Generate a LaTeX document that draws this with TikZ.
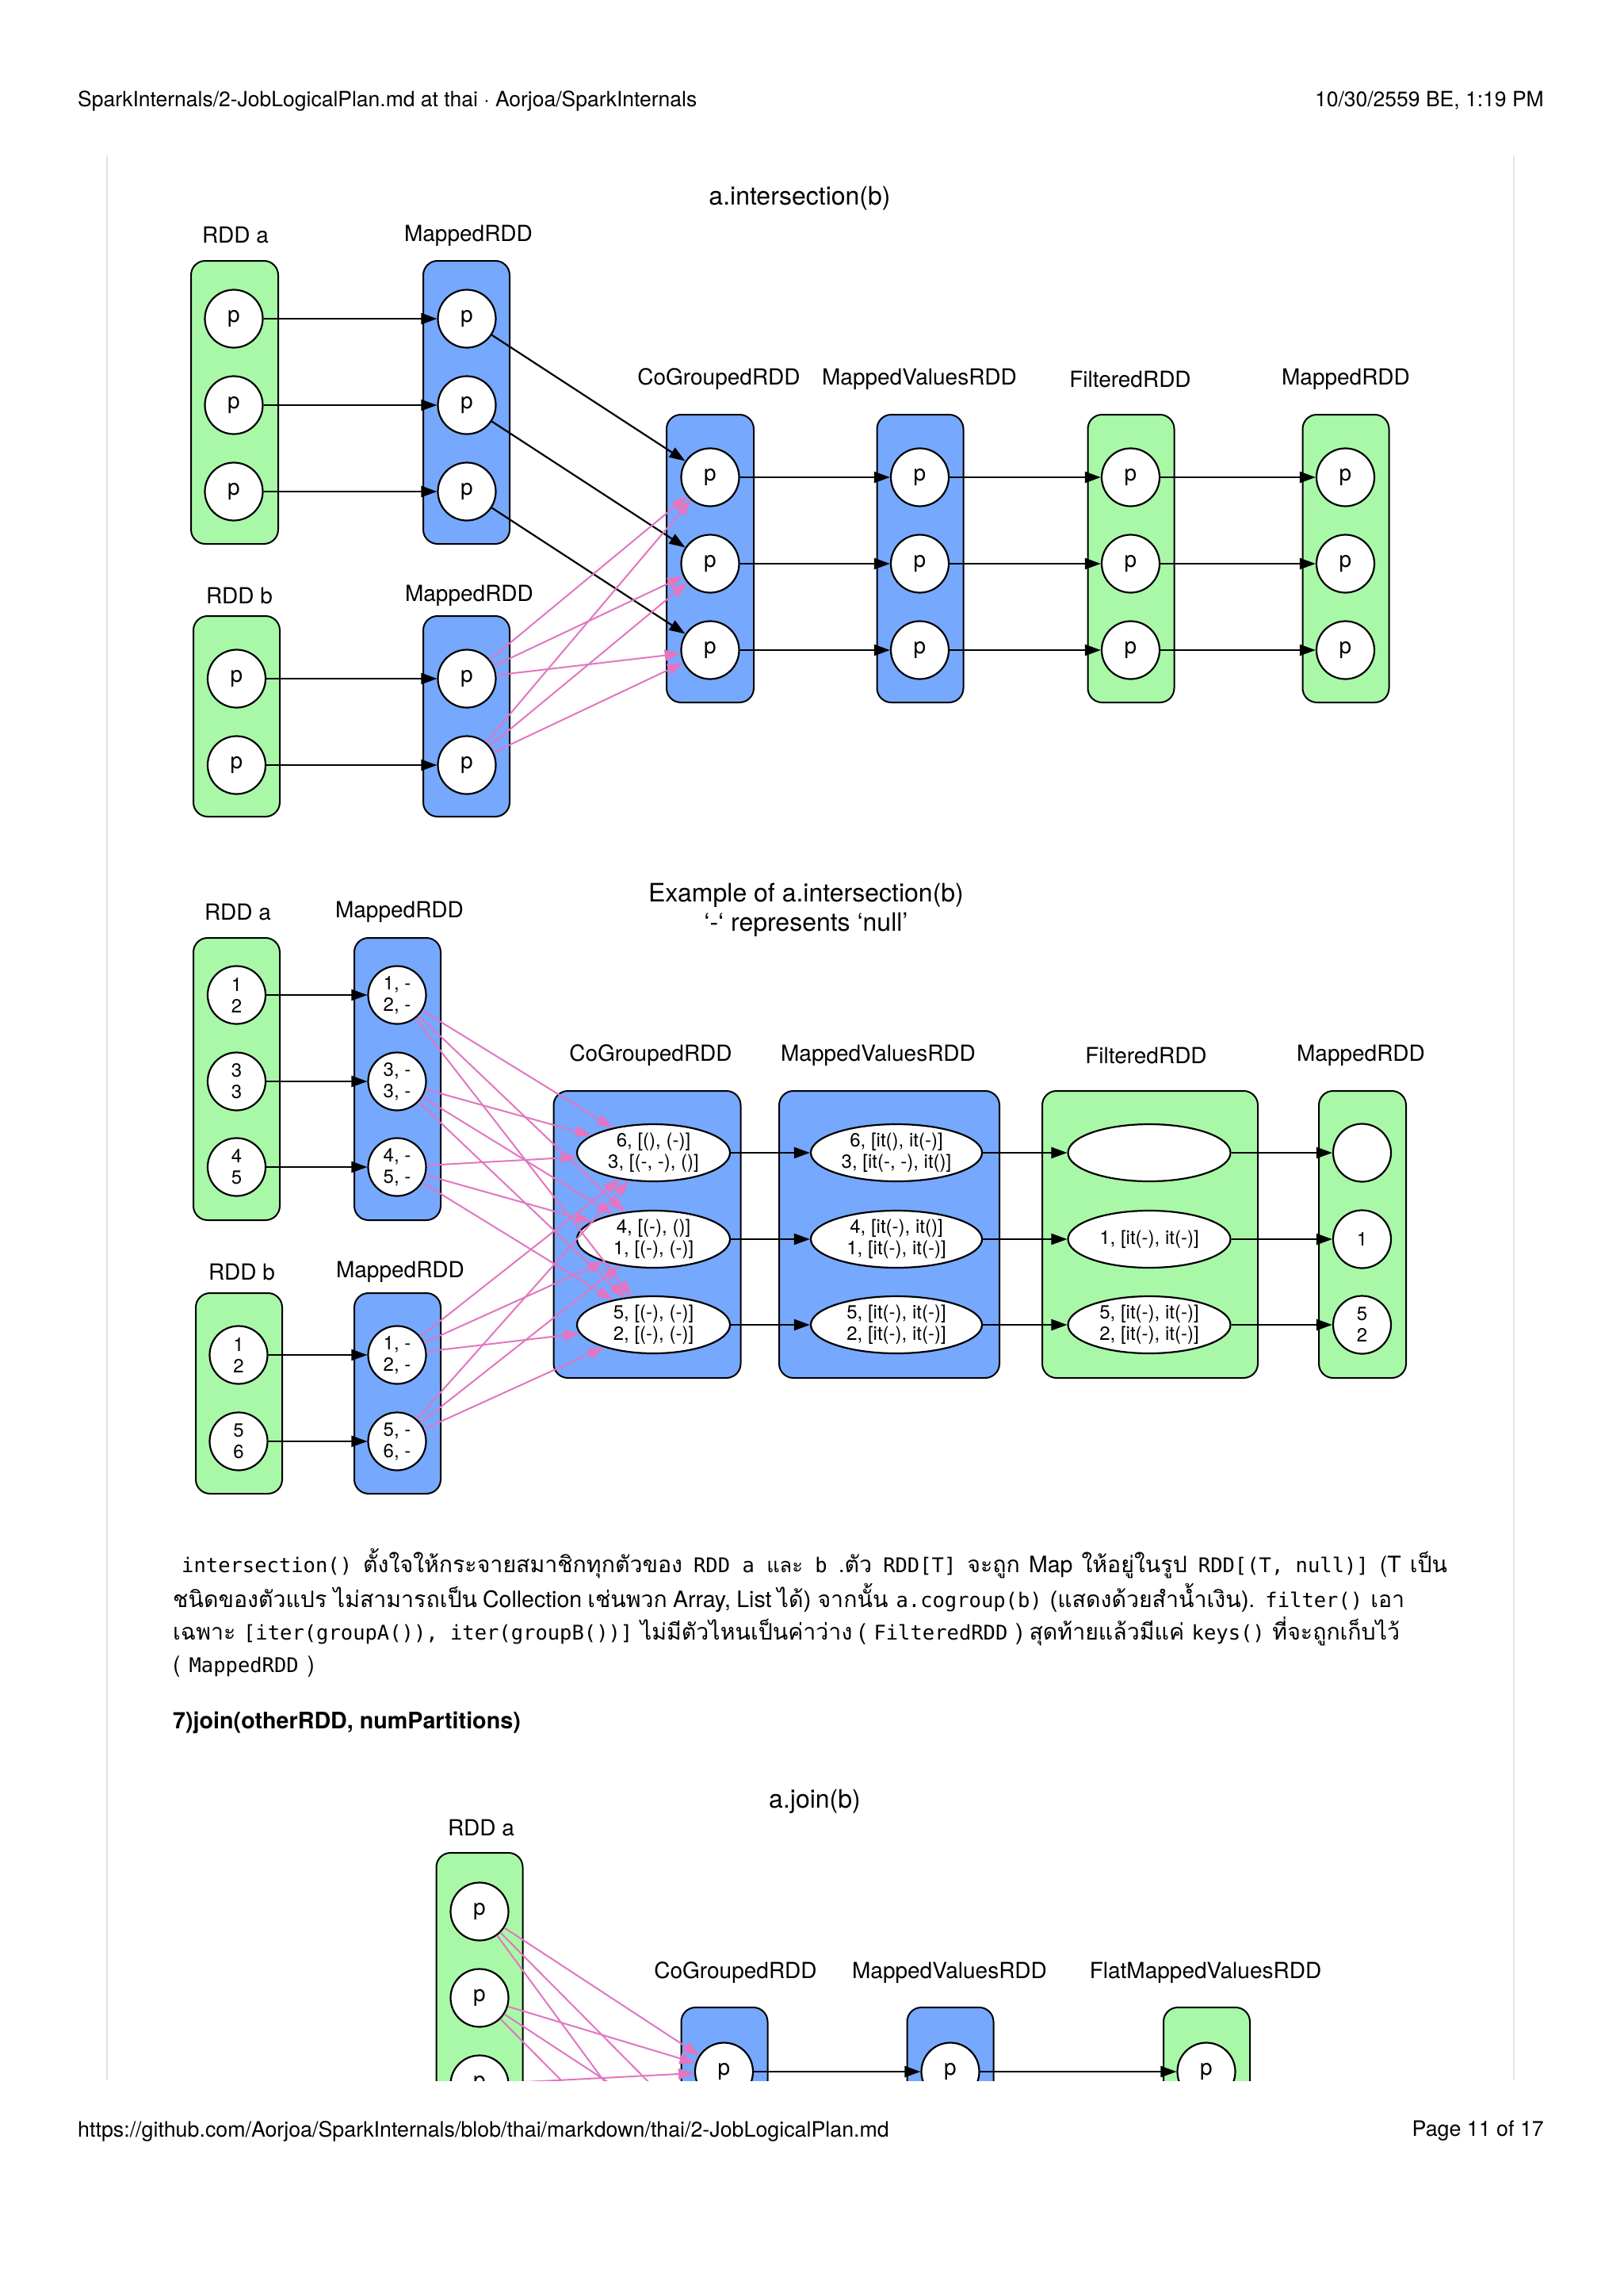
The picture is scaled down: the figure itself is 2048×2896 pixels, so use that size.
\documentclass[tikz,border=0pt]{standalone}
\usepackage{fontspec}
\setmainfont{TeX Gyre Heros}
\setmonofont{DejaVu Sans Mono}
\newfontfamily\thaifont[Script=Thai]{Loma}
\usetikzlibrary{arrows.meta,shapes.geometric}
\definecolor{rddgreen}{RGB}{168,248,168}
\definecolor{rddblue}{RGB}{118,168,254}
\definecolor{rddpink}{RGB}{226,118,192}
\definecolor{pageline}{RGB}{226,228,232}
\newcommand\tha[1]{{\thaifont #1}}
\newcommand\cd[1]{\hspace{3pt}{\ttfamily\fontsize{25.5}{32}\selectfont #1}\hspace{3pt}}
\begin{document}
\begin{tikzpicture}[x=1pt,y=-1pt,
  box/.style={draw=black, line width=2pt, rounded corners=18pt, inner sep=0pt},
  gbox/.style={box, fill=rddgreen},
  bbox/.style={box, fill=rddblue},
  part/.style={circle, draw=black, line width=2.2pt, fill=white, inner sep=0pt, minimum size=73pt, font=\fontsize{28}{30}\selectfont},
  vpart/.style={circle, draw=black, line width=2.2pt, fill=white, inner sep=0pt, minimum size=73pt, align=center, font=\fontsize{24}{27}\selectfont},
  ell/.style={ellipse, draw=black, line width=2.2pt, fill=white, inner sep=0pt, minimum height=72pt, minimum width=#1, align=center, font=\fontsize{24}{27}\selectfont},
  lbl/.style={inner sep=0pt, font=\fontsize{28}{30}\selectfont},
  ttl/.style={inner sep=0pt, font=\fontsize{32}{37}\selectfont, align=center},
  arr/.style={-{Triangle[length=20pt,width=14pt]}, line width=2.2pt, draw=black},
  parr/.style={-{Triangle[length=20pt,width=14pt]}, line width=2pt, draw=rddpink, fill=rddpink},
  hdr/.style={inner sep=0pt, font=\fontsize{26.5}{30}\selectfont},
  ftr/.style={inner sep=0pt, font=\fontsize{26.8}{30}\selectfont},
  para/.style={inner sep=0pt, font=\fontsize{28.5}{32}\selectfont}
]
\useasboundingbox (0,0) rectangle (2048,2896);
\fill[white] (0,0) rectangle (2048,2896);
% page side rules
\coordinate (gl1) at (134.5,196); \coordinate (gl2) at (134.5,2624);
\coordinate (gr1) at (1910,196); \coordinate (gr2) at (1910,2624);
\draw[pageline, line width=2pt] (gl1) -- (gl2);
\draw[pageline, line width=2pt] (gr1) -- (gr2);
% header / footer
\node[hdr, anchor=west] (hl) at (98,127) {SparkInternals/2-JobLogicalPlan.md at thai · Aorjoa/SparkInternals};
\node[hdr, anchor=east] (hr) at (1948,127) {10/30/2559 BE, 1:19 PM};
\node[ftr, anchor=west] (fl) at (98,2688) {https://github.com/Aorjoa/SparkInternals/blob/thai/markdown/thai/2-JobLogicalPlan.md};
\node[ftr, anchor=east] (fr) at (1948,2688) {Page 11 of 17};

% ================= Diagram 1 =================
\node[ttl] (d1t) at (1009,250) {a.intersection(b)};
\node[lbl] (l1a) at (297,297) {RDD a};
\node[lbl] (l1ma) at (591,297) {MappedRDD};
\node[lbl] (l1cg) at (907,478) {CoGroupedRDD};
\node[lbl] (l1mv) at (1160,478) {MappedValuesRDD};
\node[lbl] (l1f) at (1426,478) {FilteredRDD};
\node[lbl] (l1m) at (1698,478) {MappedRDD};
\node[lbl] (l1b) at (302,751) {RDD b};
\node[lbl] (l1mb) at (592,751) {MappedRDD};

\node[gbox, minimum width=110pt, minimum height=357pt] (A) at (296,507.5) {};
\node[bbox, minimum width=109pt, minimum height=357pt] (MA) at (588.5,507.5) {};
\node[gbox, minimum width=109pt, minimum height=253pt] (B) at (298.5,903.5) {};
\node[bbox, minimum width=109pt, minimum height=253pt] (MB) at (588.5,903.5) {};
\node[bbox, minimum width=110pt, minimum height=363pt] (CG) at (896,704.5) {};
\node[bbox, minimum width=109pt, minimum height=363pt] (MV) at (1161,704.5) {};
\node[gbox, minimum width=109pt, minimum height=363pt] (F) at (1427,704.5) {};
\node[gbox, minimum width=109pt, minimum height=363pt] (M) at (1698,704.5) {};

\foreach \i/\y in {1/402,2/511,3/620} {
  \node[part] (a\i) at (295,\y) {p};
  \node[part] (ma\i) at (589,\y) {p};
}
\foreach \i/\y in {1/856,2/965} {
  \node[part] (b\i) at (298.5,\y) {p};
  \node[part] (mb\i) at (589,\y) {p};
}
\foreach \i/\y in {1/602,2/711,3/820} {
  \node[part] (cg\i) at (896,\y) {p};
  \node[part] (mv\i) at (1160.5,\y) {p};
  \node[part] (f\i) at (1426.5,\y) {p};
  \node[part] (m\i) at (1697.5,\y) {p};
}
\foreach \i in {1,2,3} {
  \draw[arr] (a\i) -- (ma\i);
  \draw[arr] (ma\i) -- (cg\i);
  \draw[arr] (cg\i) -- (mv\i);
  \draw[arr] (mv\i) -- (f\i);
  \draw[arr] (f\i) -- (m\i);
}
\foreach \i in {1,2} {
  \draw[arr] (b\i) -- (mb\i);
  \foreach \j in {1,2,3} { \draw[parr] (mb\i) -- (cg\j); }
}

% ================= Diagram 2 =================
\node[ttl] (d2t) at (1017,1148) {Example of a.intersection(b)\\‘-‘ represents ‘null’};
\node[lbl] (l2a) at (300,1150) {RDD a};
\node[lbl] (l2ma) at (504,1150) {MappedRDD};
\node[lbl] (l2cg) at (821,1331) {CoGroupedRDD};
\node[lbl] (l2mv) at (1108,1331) {MappedValuesRDD};
\node[lbl] (l2f) at (1446,1331) {FilteredRDD};
\node[lbl] (l2m) at (1717,1331) {MappedRDD};
\node[lbl] (l2b) at (305,1604) {RDD b};
\node[lbl] (l2mb) at (505,1604) {MappedRDD};

\node[gbox, minimum width=109pt, minimum height=356pt] (EA) at (298.5,1361) {};
\node[bbox, minimum width=109pt, minimum height=356pt] (EMA) at (501.5,1361) {};
\node[gbox, minimum width=109pt, minimum height=253pt] (EB) at (301.5,1757.5) {};
\node[bbox, minimum width=109pt, minimum height=253pt] (EMB) at (501.5,1757.5) {};
\node[bbox, minimum width=236pt, minimum height=362pt] (ECG) at (816.5,1557) {};
\node[bbox, minimum width=278pt, minimum height=362pt] (EMV) at (1122,1557) {};
\node[gbox, minimum width=272pt, minimum height=362pt] (EF) at (1451,1557) {};
\node[gbox, minimum width=110pt, minimum height=362pt] (EM) at (1719,1557) {};

\node[vpart] (ea1) at (298.5,1255) {1\\2};
\node[vpart] (ea2) at (298.5,1364) {3\\3};
\node[vpart] (ea3) at (298.5,1472) {4\\5};
\node[vpart] (ema1) at (501,1255) {1, -\\2, -};
\node[vpart] (ema2) at (501,1364) {3, -\\3, -};
\node[vpart] (ema3) at (501,1472) {4, -\\5, -};
\node[vpart] (eb1) at (301,1709) {1\\2};
\node[vpart] (eb2) at (301,1818) {5\\6};
\node[vpart] (emb1) at (501,1709) {1, -\\2, -};
\node[vpart] (emb2) at (501,1818) {5, -\\6, -};

\node[ell=193pt] (ecg1) at (824.5,1454) {6, [(), (-)]\\3, [(-, -), ()]};
\node[ell=193pt] (ecg2) at (824.5,1563) {4, [(-), ()]\\1, [(-), (-)]};
\node[ell=193pt] (ecg3) at (824.5,1671) {5, [(-), (-)]\\2, [(-), (-)]};
\node[ell=216pt] (emv1) at (1131,1454) {6, [it(), it(-)]\\3, [it(-, -), it()]};
\node[ell=216pt] (emv2) at (1131,1563) {4, [it(-), it()]\\1, [it(-), it(-)]};
\node[ell=216pt] (emv3) at (1131,1671) {5, [it(-), it(-)]\\2, [it(-), it(-)]};
\node[ell=205pt] (ef1) at (1450,1454) {};
\node[ell=205pt] (ef2) at (1450,1563) {1, [it(-), it(-)]};
\node[ell=205pt] (ef3) at (1450,1671) {5, [it(-), it(-)]\\2, [it(-), it(-)]};
\node[vpart] (em1) at (1718.5,1454) {};
\node[vpart] (em2) at (1718.5,1563) {1};
\node[vpart] (em3) at (1718.5,1671) {5\\2};

\foreach \i in {1,2,3} {
  \draw[arr] (ea\i) -- (ema\i);
  \draw[arr] (ecg\i) -- (emv\i);
  \draw[arr] (emv\i) -- (ef\i);
  \draw[arr] (ef\i) -- (em\i);
}
\foreach \i in {1,2} { \draw[arr] (eb\i) -- (emb\i); }
\foreach \s in {ema1,ema2,ema3,emb1,emb2} {
  \foreach \j in {1,2,3} { \draw[parr] (\s) -- (ecg\j); }
}

% ================= Text =================
\node[para, anchor=west] (p1) at (226,1972) {\makebox[1600pt][s]{\cd{intersection()} \tha{ตั้งใจให้กระจายสมาชิกทุกตัวของ} \cd{RDD a \tha{และ} b} \tha{.ตัว} \cd{RDD[T]} \tha{จะถูก} Map \tha{ให้อยู่ในรูป} \cd{RDD[(T, null)]} (T \tha{เป็น}}};
\node[para, anchor=west] (p2) at (218,2015) {\makebox[1554pt][s]{\tha{ชนิดของตัวแปร ไม่สามารถเป็น} Collection \tha{เช่นพวก} Array, List \tha{ได้) จากนั้น} \cd{a.cogroup(b)} \tha{(แสดงด้วยสำน้ำเงิน).} \cd{filter()} \tha{เอา}}};
\node[para, anchor=west] (p3) at (218,2058) {\makebox[1548pt][s]{\tha{เฉพาะ} \cd{[iter(groupA()), iter(groupB())]} \tha{ไม่มีตัวไหนเป็นค่าว่าง (} \cd{FilteredRDD} \tha{) สุดท้ายแล้วมีแค่} \cd{keys()} \tha{ที่จะถูกเก็บไว้}}};
\node[para, anchor=west] (p4) at (218,2102) {( \cd{MappedRDD} )};
\node[inner sep=0pt, anchor=west, font=\fontsize{28.7}{32}\selectfont\bfseries] (h7) at (218,2173) {7)join(otherRDD, numPartitions)};

% ================= Diagram 3 (cut at page end) =================
\node[ttl] (d3t) at (1028,2272) {a.join(b)};
\node[lbl] (l3a) at (607,2305) {RDD a};
\node[lbl] (l3cg) at (928,2488) {CoGroupedRDD};
\node[lbl] (l3mv) at (1198,2488) {MappedValuesRDD};
\node[lbl] (l3fm) at (1521,2488) {FlatMappedValuesRDD};
\begin{scope}
\clip (0,0) rectangle (2048,2624);
\node[gbox, minimum width=109pt, minimum height=600pt] (JA) at (605,2637) {};
\node[bbox, minimum width=109pt, minimum height=363pt] (JCG) at (914,2713.5) {};
\node[bbox, minimum width=109pt, minimum height=363pt] (JMV) at (1199,2713.5) {};
\node[gbox, minimum width=109pt, minimum height=363pt] (JFM) at (1522.5,2713.5) {};
\node[part] (ja1) at (605,2411) {p};
\node[part] (ja2) at (605,2520) {p};
\node[part] (ja3) at (605,2629) {p};
\node[part] (jcg1) at (913.5,2613) {p};
\node[part] (jcg2) at (913.5,2722) {p};
\node[part] (jcg3) at (913.5,2831) {p};
\node[part] (jmv1) at (1199,2613) {p};
\node[part] (jfm1) at (1522,2613) {p};
\draw[arr] (jcg1) -- (jmv1);
\draw[arr] (jmv1) -- (jfm1);
\foreach \i in {1,2,3} {
  \foreach \j in {1,2,3} { \draw[parr] (ja\i) -- (jcg\j); }
}
\end{scope}
\end{tikzpicture}
\end{document}
